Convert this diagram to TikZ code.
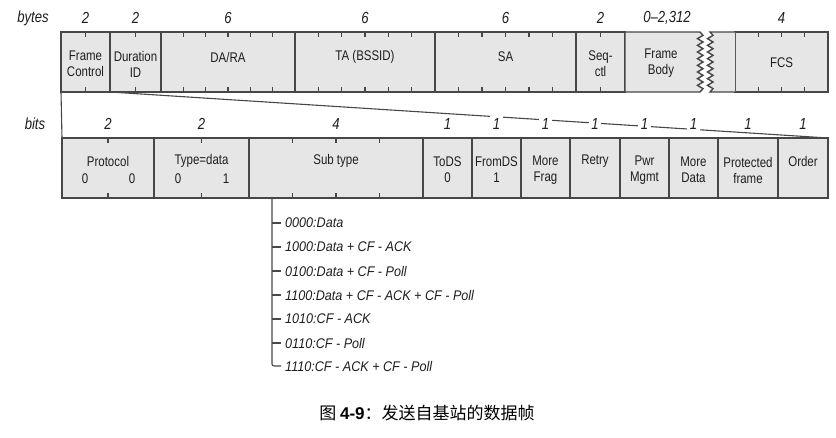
\documentclass[tikz,border=0pt]{standalone}
\usepackage{fontspec}
\setmainfont{Liberation Sans}[FakeStretch=0.82]
\newfontfamily\cjk{Noto Sans CJK SC}
\newfontfamily\capfont{Liberation Sans}
\usetikzlibrary{calc}
\definecolor{bordc}{HTML}{474747}
\definecolor{fillc}{HTML}{E6E6E6}
\definecolor{txtc}{HTML}{1E1E1E}
\tikzset{
  fld/.style={draw=bordc, fill=fillc, line width=1.4pt, minimum height=60pt, inner sep=0pt, outer sep=0pt, anchor=north west},
  lbl/.style={font=\fontsize{14}{16}\selectfont, align=center, text=txtc, inner sep=1pt},
  num/.style={font=\fontsize{16}{16}\selectfont\itshape, text=txtc, inner sep=2.5pt, fill=white},
  tk/.style={line width=1.2pt, draw=bordc},
  fan/.style={line width=1.1pt, draw=bordc},
  item/.style={font=\fontsize{14}{16}\selectfont\itshape\addfontfeatures{FakeStretch=0.9}, text=txtc, anchor=west, inner sep=4pt},
  brl/.style={line width=1.1pt, draw=bordc}
}
\begin{document}
\begin{tikzpicture}[x=1pt,y=-1pt]
\useasboundingbox (0,0) rectangle (836,437);
% ---------- top row ----------
\node[fld, minimum width=49pt]  (fc)  at (61,32) {};
\node[fld, minimum width=51pt]  (dur) at (110,32) {};
\node[fld, minimum width=134pt] (da)  at (161,32) {};
\node[fld, minimum width=140pt] (ta)  at (295,32) {};
\node[fld, minimum width=141pt] (sa)  at (435,32) {};
\node[fld, minimum width=49pt]  (seq) at (576,32) {};
\node[fld, minimum width=93pt]  (fcs) at (735,32) {};
% frame body with zigzag edge
\filldraw[fill=fillc, draw=bordc, line width=1.4pt, line join=miter]
  (625,92) -- (625,32) -- (700,32)
  \foreach \k in {1,...,17} { -- ({ifthenelse(isodd(\k),703,697.5)},{32+60/18*\k}) }
  -- (700,92) -- cycle;
\filldraw[fill=fillc, draw=bordc, line width=1.4pt, line join=miter]
  (735,32) -- (710,32)
  \foreach \k in {1,...,17} { -- ({ifthenelse(isodd(\k),713,707.5)},{32+60/18*\k}) }
  -- (710,92) -- (735,92);
% ticks
\foreach \x in {85.5,135.5,183.3,205.7,228,250.3,272.7,318.3,341.7,365,388.3,411.7,458.5,482,505.5,529,552.5,600.5,758.25,781.5,804.75}{
  \draw[tk] (\x,32) -- (\x,37);
  \draw[tk] (\x,92) -- (\x,87);
}
% top labels
\node[lbl] (tfc)  at (85.5,64)  {Frame\\Control};
\node[lbl] (tdur) at (135.5,64) {Duration\\ID};
\node[lbl] (tda)  at (228,57)   {DA/RA};
\node[lbl] (tta)  at (365,57)   {TA (BSSID)};
\node[lbl] (tsa)  at (505.5,57) {SA};
\node[lbl] (tseq) at (600.5,64) {Seq-\\ctl};
\node[lbl] (tfb)  at (661,63)   {Frame\\Body};
\node[lbl] (tfcs) at (781.5,63) {FCS};
% byte counts
\node[num] (bytes) at (33,18) {bytes};
\node[num] (b1) at (85.5,18) {2};
\node[num] (b2) at (135.5,18) {2};
\node[num] (b3) at (228,18) {6};
\node[num] (b4) at (365,18) {6};
\node[num] (b5) at (505.5,18) {6};
\node[num] (b6) at (600.5,18) {2};
\node[num] (b7) at (667,18) {0–2,312};
\node[num] (b8) at (781.5,18) {4};
% ---------- bottom row ----------
\node[fld, minimum width=92pt]  (prot)  at (62,138) {};
\node[fld, minimum width=95pt]  (type)  at (154,138) {};
\node[fld, minimum width=174pt] (sub)   at (249,138) {};
\node[fld, minimum width=49pt]  (tods)  at (423,138) {};
\node[fld, minimum width=49pt]  (frds)  at (472,138) {};
\node[fld, minimum width=49pt]  (mfrag) at (521,138) {};
\node[fld, minimum width=50pt]  (retry) at (570,138) {};
\node[fld, minimum width=49pt]  (pwr)   at (620,138) {};
\node[fld, minimum width=49pt]  (mdata) at (669,138) {};
\node[fld, minimum width=60pt]  (pfr)   at (718,138) {};
\node[fld, minimum width=50pt]  (order) at (778,138) {};
\foreach \x in {108,201.5,292.5,336,379.5}{
  \draw[tk] (\x,138) -- (\x,143);
  \draw[tk] (\x,198) -- (\x,193);
}
% fan lines
\draw[fan] (fc.south west) -- (prot.north west);
\draw[fan] (fc.south east) -- (order.north east);
% bit counts
\node[num] (bits) at (35,124) {bits};
\node[num] (c1) at (108,124) {2};
\node[num] (c2) at (201.5,124) {2};
\node[num] (c3) at (336,124) {4};
\node[num] (c4) at (447.5,124) {1};
\node[num] (c5) at (496.5,124) {1};
\node[num] (c6) at (545.5,124) {1};
\node[num] (c7) at (595,124) {1};
\node[num] (c8) at (644.5,124) {1};
\node[num] (c9) at (693.5,124) {1};
\node[num] (c10) at (748,124) {1};
\node[num] (c11) at (803,124) {1};
% bottom labels
\node[lbl] (lprot) at (108,161) {Protocol};
\node[lbl] (lp0a) at (85,179) {0};
\node[lbl] (lp0b) at (132,179) {0};
\node[lbl] (ltype) at (201.5,161) {Type=data};
\node[lbl] (lt0) at (178,179) {0};
\node[lbl] (lt1) at (226,179) {1};
\node[lbl] (lsub) at (336,161) {Sub type};
\node[lbl] (ltods) at (447.5,170) {ToDS\\0};
\node[lbl] (lfrds) at (496.5,170) {FromDS\\1};
\node[lbl] (lmf) at (545.5,170) {More\\Frag};
\node[lbl] (lre) at (595,161) {Retry};
\node[lbl] (lpw) at (644.5,170) {Pwr\\Mgmt};
\node[lbl] (lmd) at (693.5,170) {More\\Data};
\node[lbl] (lpf) at (748,170) {Protected\\frame};
\node[lbl] (lor) at (803,161) {Order};
% subtype list
\coordinate (stem) at ($(sub.south west)+(23,0)$);
\node[item] (s1) at (281,223) {0000:Data};
\node[item] (s2) at (281,247) {1000:Data + CF - ACK};
\node[item] (s3) at (281,271) {0100:Data + CF - Poll};
\node[item] (s4) at (281,295) {1100:Data + CF - ACK + CF - Poll};
\node[item] (s5) at (281,319) {1010:CF - ACK};
\node[item] (s6) at (281,343) {0110:CF - Poll};
\node[item] (s7) at (281,366) {1110:CF - ACK + CF - Poll};
\draw[brl, rounded corners=2pt] (stem) -- (stem |- s7.west) -- (s7.west);
\foreach \n in {s1,s2,s3,s4,s5,s6}{
  \draw[brl] (stem |- \n.west) -- (\n.west);
}
% caption
\node (cap) at (427,413) {\cjk\fontsize{17}{17}\selectfont 图 {\capfont\bfseries 4-9}：发送自基站的数据帧};
\end{tikzpicture}
\end{document}
